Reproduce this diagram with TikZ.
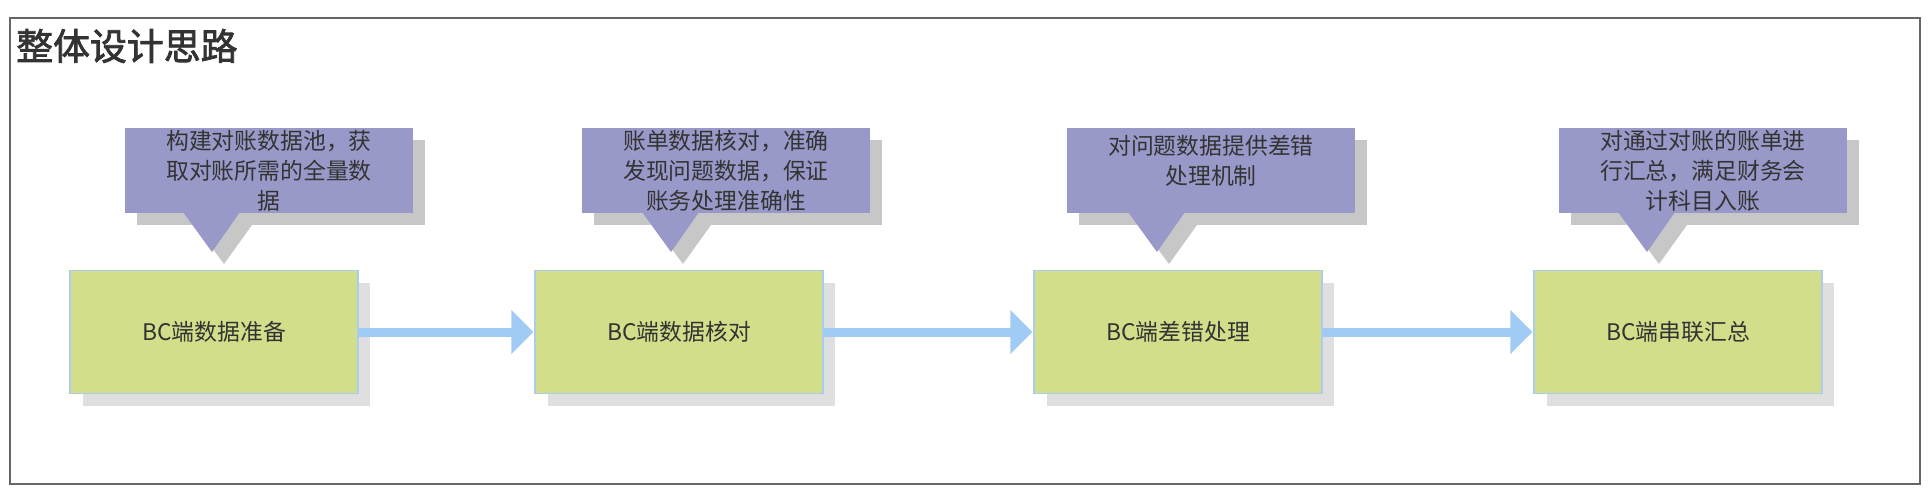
\documentclass[tikz,border=0pt]{standalone}
\usepackage{fontspec}
\newfontfamily\cjk{Noto Sans CJK SC}
\newfontfamily\cjktitle[FakeBold=2]{Noto Sans CJK SC}
\usetikzlibrary{shadows,arrows.meta}
\definecolor{stepfill}{RGB}{211,222,138}
\definecolor{stepline}{RGB}{170,204,240}
\definecolor{notefill}{RGB}{153,153,201}
\definecolor{flowblue}{RGB}{160,203,245}
\definecolor{inktext}{RGB}{51,51,51}
\tikzset{
  stepbox/.style={draw=stepline, line width=0.8pt, fill=stepfill, minimum width=5.76cm, minimum height=2.46cm,
    inner sep=0pt, text=inktext, font=\cjk\fontsize{13}{16}\selectfont,
    drop shadow={shadow xshift=0.25cm, shadow yshift=-0.25cm, fill=black!25}},
  notebox/.style={fill=notefill, minimum width=5.76cm, minimum height=1.7cm, inner sep=0pt, align=center,
    text=inktext, font=\cjk\fontsize{13}{17}\selectfont, anchor=north},
  noteshadow/.style={fill=black!22},
  flow/.style={draw=flowblue, line width=0.18cm, -{Triangle[width=0.86cm, length=0.44cm]}, shorten >=0.02cm}
}
\begin{document}
\begin{tikzpicture}[x=0.02cm, y=-0.02cm]
  \useasboundingbox (0,0) rectangle (1930,494);
  \draw[black!60, line width=0.8pt] (10,18) rectangle (1920,484);
  \node[anchor=west, text=inktext, font=\cjktitle\fontsize{21}{24}\selectfont] (title) at (10,46) {整体设计思路};

  % steps
  \node[stepbox] (s1) at (214,332) {BC端数据准备};
  \node[stepbox] (s2) at (679,332) {BC端数据核对};
  \node[stepbox] (s3) at (1178,332) {BC端差错处理};
  \node[stepbox] (s4) at (1678,332) {BC端串联汇总};

  \draw[flow] (s1) -- (s2);
  \draw[flow] (s2) -- (s3);
  \draw[flow] (s3) -- (s4);

  % notes with pointer
  \foreach \cx/\tx/\name in {269/212/n1, 726/671/n2, 1211/1157/n3, 1703/1647/n4}{
    \fill[noteshadow] (\cx-144+12,140) rectangle (\cx+144+12,225);
    \fill[noteshadow] (\tx-29+12,225) -- (\tx+12,264) -- (\tx+28+12,225) -- cycle;
    \fill[notefill] (\cx-144,128) rectangle (\cx+144,213);
    \fill[notefill] (\tx-29,212) -- (\tx,252) -- (\tx+28,212) -- cycle;
    \coordinate (\name) at (\cx,128);
  }
  \node[notebox, fill=none] (t1) at (n1) {构建对账数据池，获\\取对账所需的全量数\\据};
  \node[notebox, fill=none] (t2) at (n2) {账单数据核对，准确\\发现问题数据，保证\\账务处理准确性};
  \node[notebox, fill=none, minimum height=1.1cm] (t3) at ([yshift=-0.1cm]n3) {对问题数据提供差错\\处理机制};
  \node[notebox, fill=none] (t4) at (n4) {对通过对账的账单进\\行汇总，满足财务会\\计科目入账};
\end{tikzpicture}
\end{document}
